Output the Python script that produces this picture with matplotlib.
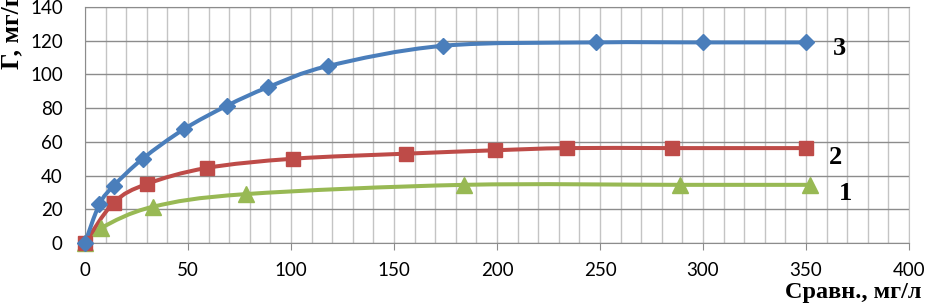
import matplotlib.pyplot as plt
from matplotlib.path import Path
from matplotlib.patches import PathPatch
from matplotlib.ticker import MultipleLocator

# Data (Сравн., мг/л  vs  Г, мг/г)
x3 = [0, 7, 14, 28, 48, 69, 89, 118, 174, 248, 300, 350]
y3 = [0, 23, 34, 50, 67.5, 81.5, 92.5, 105, 117, 119, 119, 119]

x2 = [0, 14, 30, 59, 101, 156, 199, 234, 285, 350]
y2 = [0, 24, 35, 44.5, 50, 53, 55, 56.3, 56.3, 56.3]

x1 = [0, 8, 33, 78, 184, 289, 352]
y1 = [0, 9, 21.5, 29, 34.5, 34.5, 34.5]

colors = {'3': '#4a7ebb', '2': '#be4b48', '1': '#98b954'}


def smooth_path(xs, ys):
    # Excel-like smoothed line: cubic Bezier segments (Catmull-Rom control points)
    pts = list(zip(xs, ys))
    verts = [pts[0]]
    codes = [Path.MOVETO]
    n = len(pts)
    for i in range(n - 1):
        p0 = pts[i - 1] if i > 0 else pts[i]
        p1 = pts[i]
        p2 = pts[i + 1]
        p3 = pts[i + 2] if i + 2 < n else pts[i + 1]
        c1 = (p1[0] + (p2[0] - p0[0]) / 6, p1[1] + (p2[1] - p0[1]) / 6)
        c2 = (p2[0] - (p3[0] - p1[0]) / 6, p2[1] - (p3[1] - p1[1]) / 6)
        verts += [c1, c2, p2]
        codes += [Path.CURVE4] * 3
    return Path(verts, codes)


fig = plt.figure(figsize=(9.29, 3.03), dpi=100)
ax = fig.add_axes([85 / 929, 60 / 303, 824 / 929, 236 / 303])

for xs, ys, key, mk, ms in [(x1, y1, '1', '^', 11),
                            (x2, y2, '2', 's', 10.5),
                            (x3, y3, '3', 'D', 8.5)]:
    c = colors[key]
    ax.add_patch(PathPatch(smooth_path(xs, ys), facecolor='none',
                           edgecolor=c, linewidth=2.9, zorder=3))
    ax.plot(xs, ys, linestyle='none', marker=mk, markersize=ms,
            color=c, markeredgecolor=c, zorder=4, clip_on=False)

ax.set_xlim(0, 400)
ax.set_ylim(0, 140)
ax.xaxis.set_major_locator(MultipleLocator(50))
ax.xaxis.set_minor_locator(MultipleLocator(10))
ax.yaxis.set_major_locator(MultipleLocator(20))

ax.grid(True, which='minor', axis='x', color='#c4c4c4', linewidth=1.0)
ax.grid(True, which='major', axis='x', color='#c4c4c4', linewidth=1.0)
ax.grid(True, which='major', axis='y', color='#8c8c8c', linewidth=1.0)
ax.set_axisbelow(True)

for s in ax.spines.values():
    s.set_color('#8c8c8c')
ax.spines['right'].set_color('#c4c4c4')

ax.tick_params(axis='x', which='major', length=5, color='#8c8c8c', pad=9,
               labelsize=13.5)
ax.tick_params(axis='x', which='minor', length=0)
ax.tick_params(axis='y', length=0, pad=16, labelsize=13.5)
for lab in ax.get_xticklabels() + ax.get_yticklabels():
    lab.set_family('Lato')

serif = {'family': 'Liberation Serif', 'weight': 'bold'}
ax.text(363, 115.5, '3', fontsize=19, va='center', ha='left', **serif)
ax.text(361, 51, '2', fontsize=19, va='center', ha='left', **serif)
ax.text(366, 29.5, '1', fontsize=19, va='center', ha='left', **serif)

fig.text(785 / 929, 1 - 298 / 303, 'Сравн., мг/л', fontsize=17.5,
         ha='left', va='baseline', **serif)
fig.text(0, 1 - 69 / 303, 'Г, мг/г', fontsize=18.5, rotation=90,
         ha='left', va='bottom', **serif)

fig.savefig('out.png', dpi=100)
